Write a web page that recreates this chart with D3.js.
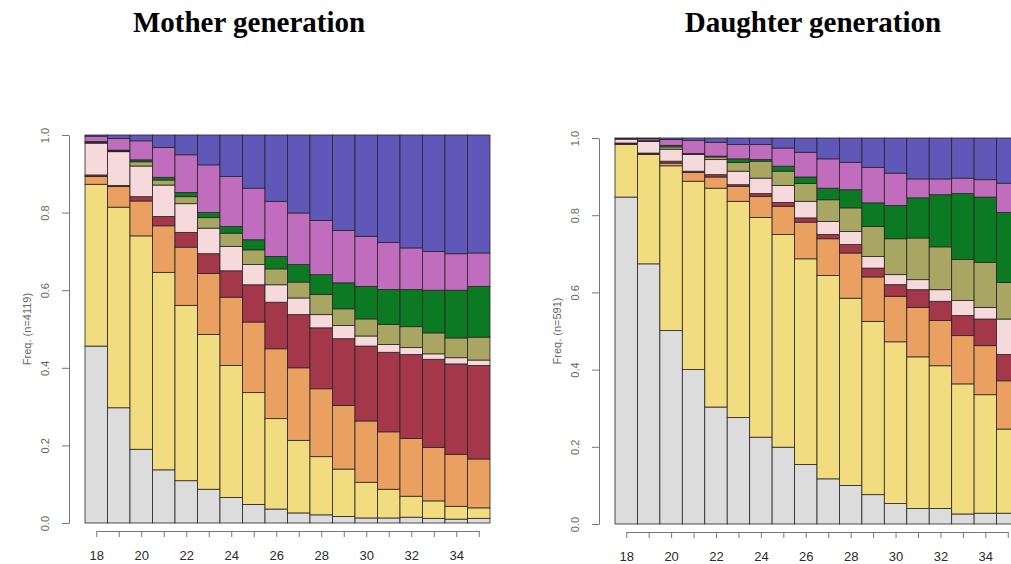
<!DOCTYPE html>
<html lang="en">

<head>
    <meta charset="UTF-8">
    <title>Mother and daughter generation</title>
    <style>
        body {
            margin: 0;
            background: #fff;
        }

        .title {
            font: bold 29px "Liberation Serif", "Times New Roman", serif;
            text-anchor: middle;
            fill: #000;
        }

        .bars rect {
            stroke: #262626;
            stroke-width: 0.8;
        }

        .axis path,
        .axis line {
            fill: none;
            stroke: #777;
        }

        .axis--y text {
            font: 11px "Liberation Sans", Arial, sans-serif;
            fill: #666;
        }

        .axis--x text {
            font: 13px "Liberation Sans", Arial, sans-serif;
            fill: #2a2a2a;
        }

        .ylabel {
            font: 11px "Liberation Sans", Arial, sans-serif;
            fill: #666;
            text-anchor: middle;
        }
    </style>
</head>

<body>
    <svg class="chart" width="1011" height="564"></svg>
    <script src="https://d3js.org/d3.v7.min.js"></script>
    <script>
        // ages on the x axis (one bar each), only even ones get a label
        const ages = [18, 19, 20, 21, 22, 23, 24, 25, 26, 27, 28, 29, 30, 31, 32, 33, 34, 35];
        const tickLabels = [18, 20, 22, 24, 26, 28, 30, 32, 34];
        const yTicks = [0, 0.2, 0.4, 0.6, 0.8, 1.0];

        // stack order, bottom to top
        const keys = ["grey", "yellow", "orange", "darkred", "lightpink", "olive", "green", "magenta", "blue"];
        const colors = ["#dcdcdc", "#f1dc80", "#eaa060", "#a5374a", "#f6d9da", "#a8a662", "#0b7a22", "#c16dbd", "#5f58b9"];

        // mother generation, share per age
        const mGrey = [.456, .297, .190, .137, .109, .087, .066, .048, .036, .026, .021, .017, .013, .013, .015, .012, .010, .012];
        const mYellow = [.417, .517, .550, .509, .452, .399, .340, .288, .233, .187, .150, .122, .092, .074, .054, .045, .033, .027];
        const mOrange = [.020, .053, .090, .120, .150, .157, .176, .182, .180, .187, .175, .164, .158, .148, .149, .138, .134, .126];
        const mDarkred = [.004, .003, .011, .024, .038, .051, .068, .096, .120, .137, .157, .172, .193, .205, .216, .227, .233, .241];
        const mLightpink = [.082, .087, .079, .081, .074, .066, .063, .052, .045, .043, .034, .034, .026, .020, .018, .014, .016, .014];
        const mOlive = [.002, .002, .011, .013, .018, .027, .034, .038, .041, .041, .052, .043, .044, .052, .054, .054, .051, .059];
        const mGreen = [.002, .002, .005, .007, .011, .013, .017, .026, .032, .045, .051, .067, .084, .090, .096, .110, .123, .131];
        const mMagenta = [.014, .030, .049, .077, .097, .123, .129, .133, .142, .133, .140, .135, .129, .121, .107, .100, .094, .086];
        const mBlue = [.003, .009, .015, .032, .051, .077, .107, .137, .171, .201, .220, .246, .261, .277, .291, .300, .306, .304];

        // daughter generation, share per age
        const dGrey = [.847, .674, .501, .400, .303, .276, .225, .199, .154, .117, .100, .076, .053, .040, .040, .026, .028, .028];
        const dYellow = [.136, .283, .427, .488, .567, .560, .569, .551, .533, .527, .485, .449, .419, .393, .370, .337, .307, .218];
        const dOrange = [.002, .002, .007, .023, .029, .039, .055, .073, .095, .095, .117, .115, .118, .128, .117, .125, .127, .125];
        const dDarkred = [.002, .002, .005, .003, .006, .004, .007, .010, .011, .011, .022, .023, .030, .046, .050, .052, .069, .068];
        const dLightpink = [.010, .030, .031, .043, .039, .035, .040, .044, .043, .034, .034, .030, .026, .026, .030, .039, .030, .092];
        const dOlive = [.000, .001, .006, .002, .007, .023, .044, .037, .046, .056, .061, .078, .093, .108, .111, .106, .117, .095];
        const dGreen = [.000, .001, .004, .001, .002, .009, .004, .013, .017, .030, .047, .061, .086, .104, .135, .171, .169, .181];
        const dMagenta = [.002, .005, .015, .034, .036, .037, .039, .047, .064, .076, .071, .092, .084, .049, .041, .040, .045, .076];
        const dBlue = [.001, .002, .004, .006, .011, .017, .017, .026, .037, .054, .063, .076, .091, .106, .106, .104, .108, .117];

        function rows(cols) {
            return ages.map((age, i) => {
                let r = { age: age };
                keys.forEach((k, j) => r[k] = cols[j][i]);
                return r;
            });
        }

        const motherData = rows([mGrey, mYellow, mOrange, mDarkred, mLightpink, mOlive, mGreen, mMagenta, mBlue]);
        const daughterData = rows([dGrey, dYellow, dOrange, dDarkred, dLightpink, dOlive, dGreen, dMagenta, dBlue]);

        const color = d3.scaleOrdinal().domain(keys).range(colors);
        const stack = d3.stack().keys(keys);

        const svg = d3.select(".chart");

        function drawPanel(data, p) {
            let x = d3.scaleBand()
                .domain(ages)
                .range([p.left, p.right])
                .padding(0);

            let y = d3.scaleLinear()
                .domain([0, 1])
                .range([p.bottom, p.top]);

            let g = svg.append("g");

            g.append("text")
                .attr("class", "title")
                .attr("x", p.titleX)
                .attr("y", 32)
                .text(p.title);

            g.append("g")
                .attr("class", "bars")
                .selectAll("g")
                .data(stack(data))
                .enter().append("g")
                .attr("fill", d => color(d.key))
                .selectAll("rect")
                .data(d => d)
                .enter().append("rect")
                .attr("x", d => x(d.data.age))
                .attr("y", d => y(d[1]))
                .attr("height", d => y(d[0]) - y(d[1]))
                .attr("width", x.bandwidth());

            // y axis, labels turned to run along the axis
            let yAxis = g.append("g")
                .attr("class", "axis axis--y")
                .attr("transform", `translate(${p.axisX},0)`)
                .call(d3.axisLeft(y).tickValues(yTicks).tickFormat(d3.format(".1f")).tickSize(7).tickSizeOuter(0));

            yAxis.selectAll("text")
                .attr("x", 0)
                .attr("y", 0)
                .attr("dy", "0.35em")
                .attr("text-anchor", "middle")
                .attr("transform", "translate(-24,0) rotate(-90)");

            g.append("text")
                .attr("class", "ylabel")
                .attr("transform", `translate(${p.axisX - 42},${(p.top + p.bottom) / 2}) rotate(-90)`)
                .attr("dy", "0.35em")
                .text(p.ylabel);

            // x axis runs from first to last bar centre
            let xt = d3.scalePoint()
                .domain(ages)
                .range([x(ages[0]) + x.bandwidth() / 2, x(ages[ages.length - 1]) + x.bandwidth() / 2]);

            let xAxis = g.append("g")
                .attr("class", "axis axis--x")
                .attr("transform", `translate(0,${p.axisY})`)
                .call(d3.axisBottom(xt).tickSize(6).tickSizeOuter(0)
                    .tickFormat(d => tickLabels.includes(d) ? d : ""));

            xAxis.selectAll("text")
                .attr("y", 29)
                .attr("dy", 0);
        }

        drawPanel(motherData, {
            title: "Mother generation", titleX: 249, ylabel: "Freq. (n=4119)",
            left: 85, right: 490, top: 135, bottom: 523, axisX: 69, axisY: 531
        });

        drawPanel(daughterData, {
            title: "Daughter generation", titleX: 813, ylabel: "Freq. (n=591)",
            left: 615, right: 1019, top: 138, bottom: 524, axisX: 599, axisY: 532
        });
    </script>
</body>

</html>
